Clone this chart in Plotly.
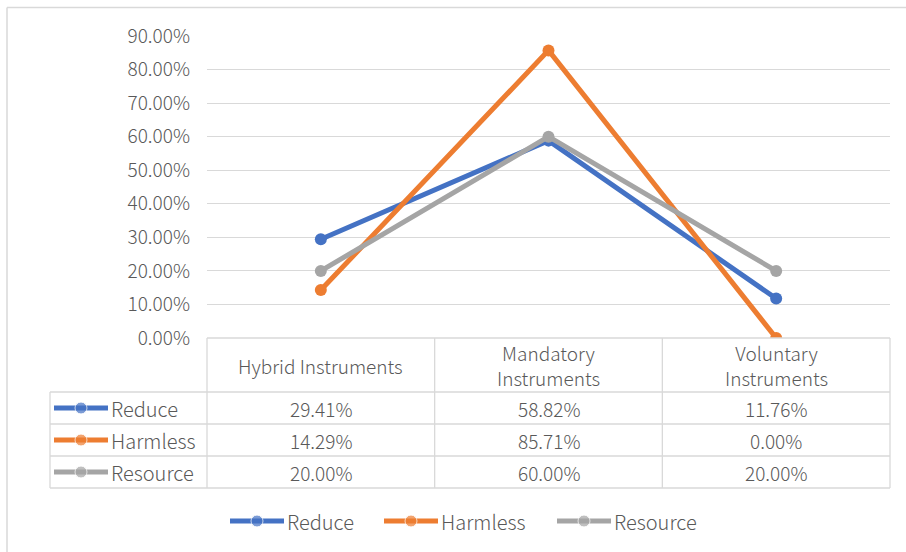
import plotly.graph_objects as go

# Data
categories = ["Hybrid Instruments", "Mandatory<br>Instruments", "Voluntary<br>Instruments"]
series_names = ["Reduce", "Harmless", "Resource"]
reduce_vals = [0.2941, 0.5882, 0.1176]
harmless_vals = [0.1429, 0.8571, 0.0000]
resource_vals = [0.2000, 0.6000, 0.2000]
y_ticks = [0.0, 0.1, 0.2, 0.3, 0.4, 0.5, 0.6, 0.7, 0.8, 0.9]

series_vals = [reduce_vals, harmless_vals, resource_vals]
colors = ["#4472C4", "#ED7D31", "#A5A5A5"]

W, H = 906, 552
FONT = "Noto Sans CJK SC, Noto Sans, sans-serif"
TXT = "#595959"
GRID = "#D9D9D9"

def tfont(size=19):
    return dict(family=FONT, size=size, color=TXT, weight=300)

# pixel geometry of the plot area and data table
px_left, px_right = 207, 890
px_top, px_bottom = 36, 338
tbl_left = 50
hdr_bottom = 392
row_h = 32

fig = go.Figure()

xs = list(range(len(categories)))
for name, vals, col in zip(series_names, series_vals, colors):
    fig.add_trace(go.Scatter(
        x=xs, y=vals, name=name, mode="lines+markers",
        line=dict(color=col, width=5),
        marker=dict(color=col, size=12),
        showlegend=False, xaxis="x", yaxis="y",
    ))

# pixel-space axis for the data table and legend
band = (px_right - px_left) / len(categories)
shapes = []
annotations = []

def hline(x0, x1, y):
    shapes.append(dict(type="line", xref="x2", yref="y2", x0=x0, x1=x1, y0=y, y1=y,
                       line=dict(color=GRID, width=1.3), layer="below"))

def vline(x, y0, y1):
    shapes.append(dict(type="line", xref="x2", yref="y2", x0=x, x1=x, y0=y0, y1=y1,
                       line=dict(color=GRID, width=1.3), layer="below"))

tbl_bottom = hdr_bottom + row_h * len(series_names)
# header row borders
hline(px_left, px_right, px_bottom)
for i in range(len(categories) + 1):
    vline(px_left + i * band, px_bottom, tbl_bottom)
# data rows
for r in range(len(series_names) + 1):
    hline(tbl_left, px_right, hdr_bottom + r * row_h)
vline(tbl_left, hdr_bottom, tbl_bottom)

# category header cells
hdr_mid = (px_bottom + hdr_bottom) / 2
for i, cat in enumerate(categories):
    annotations.append(dict(xref="x2", yref="y2", x=px_left + (i + 0.5) * band,
                            y=hdr_mid, text=cat, showarrow=False, align="center",
                            font=tfont(19)))

for r, (name, vals, col) in enumerate(zip(series_names, series_vals, colors)):
    yc = hdr_bottom + (r + 0.5) * row_h
    # legend key in the table
    fig.add_trace(go.Scatter(
        x=[54, 81, 108], y=[yc, yc, yc], mode="lines+markers", xaxis="x2", yaxis="y2",
        line=dict(color=col, width=5),
        marker=dict(color=col, size=[0, 12, 0]), showlegend=False, hoverinfo="skip"))
    annotations.append(dict(xref="x2", yref="y2", x=109, y=yc, text=name, showarrow=False,
                            xanchor="left", font=tfont(20)))
    for i, v in enumerate(vals):
        annotations.append(dict(xref="x2", yref="y2", x=px_left + (i + 0.5) * band, y=yc,
                                text=f"{v * 100:.2f}%", showarrow=False, font=tfont()))

# bottom legend
leg_x = [230, 384, 557]
for name, col, lx in zip(series_names, colors, leg_x):
    fig.add_trace(go.Scatter(
        x=[lx, lx + 27, lx + 54], y=[521, 521, 521], mode="lines+markers", xaxis="x2", yaxis="y2",
        line=dict(color=col, width=5),
        marker=dict(color=col, size=[0, 12, 0]), showlegend=False, hoverinfo="skip"))
    annotations.append(dict(xref="x2", yref="y2", x=lx + 55, y=521, text=name, showarrow=False,
                            xanchor="left", font=tfont(20)))

# outer chart border (top and left edges)
shapes.append(dict(type="line", xref="paper", yref="paper", x0=7 / W, x1=1,
                   y0=1 - 7.5 / H, y1=1 - 7.5 / H, line=dict(color="#D9D9D9", width=1.5)))
shapes.append(dict(type="line", xref="paper", yref="paper", x0=7 / W, x1=7 / W,
                   y0=0, y1=1 - 7.5 / H, line=dict(color="#D9D9D9", width=1.5)))

fig.update_layout(
    width=W, height=H, autosize=False, margin=dict(l=0, r=0, t=0, b=0, pad=0),
    paper_bgcolor="white", plot_bgcolor="rgba(0,0,0,0)",
    xaxis=dict(domain=[px_left / W, px_right / W], range=[-0.5, len(categories) - 0.5],
               showgrid=False, zeroline=False, showticklabels=False, fixedrange=True,
               anchor="y", automargin=False),
    yaxis=dict(domain=[(H - px_bottom) / H, (H - px_top) / H], range=[0, 0.9],
               tickvals=y_ticks, ticktext=[f"{t * 100:.2f}%" for t in y_ticks],
               gridcolor=GRID, gridwidth=1.3, zeroline=False, showline=False,
               tickfont=tfont(), ticks="", ticklabelstandoff=16, anchor="x",
               automargin=False),
    xaxis2=dict(domain=[0, 1], range=[0, W], visible=False, fixedrange=True, anchor="y2",
                automargin=False),
    yaxis2=dict(domain=[0, 1], range=[H, 0], visible=False, fixedrange=True, anchor="x2",
                automargin=False),
    shapes=shapes, annotations=annotations,
)

fig.write_html("out.html")
